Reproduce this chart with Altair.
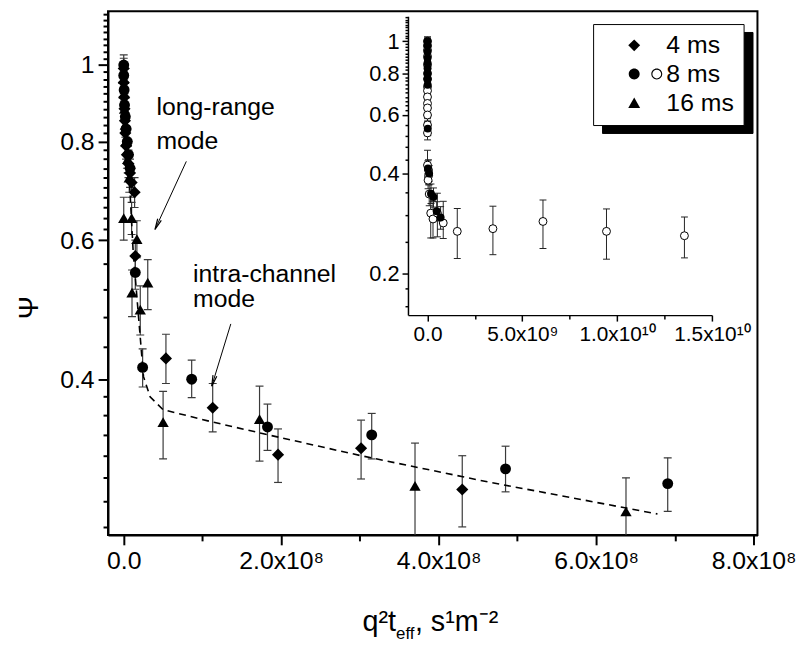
import altair as alt
import pandas as pd

# ---------------- main panel data (x in units of 1e8 s m^-2) ----------------
d4_x = [0.0, 0.0, 0.005, 0.01, 0.015, 0.02, 0.03, 0.04, 0.06, 0.08, 0.10, 0.138, 0.147, 0.536, 1.13, 1.96, 3.015, 4.30]
d4_y = [0.99, 0.95, 0.91, 0.88, 0.85, 0.82, 0.79, 0.77, 0.75, 0.73, 0.71, 0.69, 0.573, 0.425, 0.368, 0.321, 0.327, 0.290]
d4_lo = [0.96, 0.92, 0.88, 0.85, 0.82, 0.79, 0.76, 0.74, 0.72, 0.70, 0.68, 0.66, 0.55, 0.395, 0.343, 0.296, 0.299, 0.260]
d4_hi = [1.02, 0.98, 0.94, 0.91, 0.88, 0.85, 0.82, 0.80, 0.78, 0.76, 0.74, 0.72, 0.60, 0.456, 0.395, 0.346, 0.355, 0.320]

d8_x = [0.0, 0.0, 0.005, 0.01, 0.02, 0.03, 0.045, 0.06, 0.08, 0.147, 0.24, 0.863, 1.826, 3.15, 4.85, 6.91]
d8_y = [1.0, 0.97, 0.93, 0.89, 0.86, 0.83, 0.80, 0.77, 0.74, 0.546, 0.414, 0.400, 0.348, 0.340, 0.308, 0.295]
d8_lo = [0.97, 0.94, 0.90, 0.86, 0.83, 0.80, 0.77, 0.74, 0.71, 0.52, 0.391, 0.379, 0.325, 0.317, 0.288, 0.272]
d8_hi = [1.03, 1.00, 0.96, 0.92, 0.89, 0.86, 0.83, 0.80, 0.77, 0.575, 0.437, 0.423, 0.372, 0.362, 0.329, 0.318]

d16_x = [0.0, 0.005, 0.01, 0.02, 0.03, 0.05, 0.07, 0.0, 0.10, 0.167, 0.105, 0.21, 0.305, 0.50, 1.725, 3.70, 6.38]
d16_y = [0.96, 0.92, 0.88, 0.84, 0.80, 0.76, 0.72, 0.64, 0.64, 0.602, 0.515, 0.49, 0.53, 0.353, 0.356, 0.293, 0.272]
d16_lo = [0.93, 0.89, 0.85, 0.81, 0.77, 0.73, 0.69, 0.60, 0.61, 0.57, 0.48, 0.455, 0.49, 0.317, 0.315, 0.24, 0.248]
d16_hi = [0.99, 0.95, 0.91, 0.87, 0.83, 0.79, 0.75, 0.68, 0.67, 0.635, 0.55, 0.525, 0.567, 0.386, 0.392, 0.332, 0.300]

# dashed fit curve
fit_x = [0.0, 0.03, 0.07, 0.12, 0.185, 0.251, 0.335, 0.5, 1.13, 1.84, 3.015, 4.585, 6.78]
fit_y = [1.0, 0.86, 0.72, 0.58, 0.484, 0.403, 0.380, 0.366, 0.353, 0.340, 0.320, 0.297, 0.270]

# annotations
ann_text = ["long-range", "mode", "intra-channel", "mode"]
ann_x = [0.415, 0.415, 0.88, 0.88]
ann_y = [0.885, 0.80, 0.544, 0.505]
arr_x0 = [0.795, 1.36]
arr_y0 = [0.755, 0.470]
arr_x1 = [0.397, 1.118]
arr_y1 = [0.619, 0.392]

# ---------------- inset data (x in units of 1e9 s m^-2) ----------------
in_x = [0.0] * 15 + [0.0, 0.05, 0.06, 0.03, 0.09, 0.17, 0.29, 0.52, 0.83, 1.57, 3.45, 6.09, 9.44, 13.55]
in_y = [1.0, 0.97, 0.94, 0.90, 0.85, 0.80, 0.77, 0.73, 0.71, 0.68, 0.65, 0.63, 0.60, 0.56, 0.53,
        0.424, 0.41, 0.395, 0.382, 0.347, 0.304, 0.292, 0.304, 0.284, 0.268, 0.273, 0.287, 0.268, 0.260]
in_lo = [0.975, 0.945, 0.915, 0.875, 0.825, 0.775, 0.745, 0.705, 0.685, 0.655, 0.625, 0.605, 0.575, 0.535, 0.505,
         0.39, 0.38, 0.37, 0.36, 0.32, 0.256, 0.256, 0.258, 0.255, 0.222, 0.228, 0.238, 0.221, 0.223]
in_hi = [1.03, 0.995, 0.965, 0.925, 0.875, 0.825, 0.795, 0.755, 0.735, 0.705, 0.675, 0.655, 0.625, 0.585, 0.555,
         0.47, 0.44, 0.42, 0.40, 0.37, 0.345, 0.33, 0.349, 0.33, 0.314, 0.319, 0.333, 0.313, 0.296]

# axis ticks
x_ticks = [0, 1e8, 2e8, 3e8, 4e8, 5e8, 6e8, 7e8, 8e8]
y_ticks = [0.26, 0.28, 0.30, 0.32, 0.34, 0.36, 0.38, 0.4, 0.44, 0.48, 0.52, 0.56, 0.6,
           0.62, 0.64, 0.66, 0.68, 0.70, 0.72, 0.74, 0.76, 0.78, 0.8, 0.82, 0.84, 0.86, 0.88,
           0.90, 0.92, 0.94, 0.96, 0.98, 1, 1.02, 1.04, 1.06, 1.08, 1.10, 1.12, 1.14, 1.16]
xi_ticks = [0, 2.5e9, 5e9, 7.5e9, 1e10, 1.25e10, 1.5e10]
yi_ticks = [0.16, 0.18, 0.2, 0.25, 0.3, 0.35, 0.4, 0.44, 0.48, 0.52, 0.56, 0.6,
            0.62, 0.64, 0.66, 0.68, 0.70, 0.72, 0.74, 0.76, 0.78, 0.8, 0.82, 0.84, 0.86, 0.88,
            0.90, 0.92, 0.94, 0.96, 0.98, 1, 1.02, 1.04, 1.06, 1.08, 1.10, 1.12, 1.14, 1.16, 1.18]

legend_labels = ["4 ms", "8 ms", "16 ms"]

# ---------------- tables ----------------
rows = []
for s, xs, ys, los, his in [("4", d4_x, d4_y, d4_lo, d4_hi),
                            ("8", d8_x, d8_y, d8_lo, d8_hi),
                            ("16", d16_x, d16_y, d16_lo, d16_hi)]:
    for x, y, lo, hi in zip(xs, ys, los, his):
        rows.append({"s": s, "x": x * 1e8, "y": y, "lo": lo, "hi": hi})
main_df = pd.DataFrame(rows)
fit_df = pd.DataFrame({"x": [v * 1e8 for v in fit_x], "y": fit_y})
ann_df = pd.DataFrame({"x": [v * 1e8 for v in ann_x], "y": ann_y, "t": ann_text})
arr_df = pd.DataFrame({"x0": [v * 1e8 for v in arr_x0], "y0": arr_y0,
                       "x1": [v * 1e8 for v in arr_x1], "y1": arr_y1})
in_df = pd.DataFrame({"x": [v * 1e9 for v in in_x], "y": in_y, "lo": in_lo, "hi": in_hi})
in_filled = main_df[main_df.s == "8"][["x", "y", "lo", "hi"]]
leg_df = pd.DataFrame({"k": legend_labels, "k2": ["A", "B", "C"],
                       "x": [None, None, None], "y": [None, None, None]})

FONT = "Liberation Sans"

# ---------------- main scales / axes ----------------
XS = alt.Scale(domain=[-0.2e8, 8.05e8], nice=False, zero=False)
YS = alt.Scale(type="log", domain=[0.254, 1.17], nice=False)
x_ax = alt.Axis(orient="bottom", values=x_ticks, title=None, grid=False,
                labelExpr="datum.value == 0 ? '0.0' : (datum.value % 2e8 == 0 ? format(datum.value / 1e8, '.1f') + 'x10⁸' : '')",
                tickSize={"condition": {"test": "datum.value % 2e8 == 0", "value": 10}, "value": 6},
                tickWidth=2, domainWidth=2, labelFontSize=25, labelPadding=4,
                labelFlush=False, labelOverlap=False)
y_ax = alt.Axis(orient="left", values=y_ticks, grid=False,
                labelExpr="datum.value == 1 ? '1' : (indexof([0.4, 0.6, 0.8], datum.value) >= 0 ? format(datum.value, '.1f') : '')",
                tickSize={"condition": {"test": "indexof([0.4, 0.6, 0.8, 1], datum.value) >= 0", "value": 10}, "value": 5},
                tickWidth=2, domainWidth=2, labelFontSize=25, labelPadding=4,
                labelFlush=False, labelOverlap=False,
                title="Ψ", titleFontSize=28, titleFontWeight="normal",
                titleX=-79, titleY=299, titleAlign="center", titleBaseline="middle")


def MX(f="x"):
    return alt.X(f + ":Q", scale=XS, axis=x_ax)


def MY(f="y"):
    return alt.Y(f + ":Q", scale=YS, axis=y_ax)


err_col = "#3a3a3a"
m_rules = alt.Chart(main_df).mark_rule(color=err_col, strokeWidth=1.2, clip=True).encode(
    MX(), MY("lo"), alt.Y2("hi:Q"))
m_cap_lo = alt.Chart(main_df).mark_tick(orient="horizontal", size=8, thickness=1.2,
                                        color=err_col, clip=True, opacity=1).encode(MX(), MY("lo"))
m_cap_hi = alt.Chart(main_df).mark_tick(orient="horizontal", size=8, thickness=1.2,
                                        color=err_col, clip=True, opacity=1).encode(MX(), MY("hi"))
m_fit = alt.Chart(fit_df).mark_line(color="black", strokeDash=[7, 5], strokeWidth=1.6).encode(MX(), MY())
m_d4 = alt.Chart(main_df).transform_filter(alt.datum.s == "4").mark_point(
    shape="diamond", filled=True, color="black", size=150, opacity=1).encode(MX(), MY())
m_d8 = alt.Chart(main_df).transform_filter(alt.datum.s == "8").mark_point(
    shape="circle", filled=True, color="black", size=121, opacity=1).encode(MX(), MY())
m_d16 = alt.Chart(main_df).transform_filter(alt.datum.s == "16").mark_point(
    shape="triangle-up", filled=True, color="black", size=130, opacity=1).encode(MX(), MY())

m_ann = alt.Chart(ann_df).mark_text(align="left", baseline="middle", fontSize=25,
                                    font=FONT, color="black").encode(MX(), MY(), text="t:N")
m_arr = alt.Chart(arr_df).mark_rule(color="black", strokeWidth=1).encode(
    MX("x0"), MY("y0"), alt.X2("x1:Q"), alt.Y2("y1:Q"))
V_PATH = "M -0.4,2.2 L 0,0 L 0.4,2.2"
m_head1 = alt.Chart(arr_df.iloc[[0]]).mark_point(shape=V_PATH, angle=204.5, size=100, filled=False,
                                                  strokeWidth=1.2, color="black", opacity=1).encode(MX("x1"), MY("y1"))
m_head2 = alt.Chart(arr_df.iloc[[1]]).mark_point(shape=V_PATH, angle=196.8, size=100, filled=False,
                                                  strokeWidth=1.2, color="black", opacity=1).encode(MX("x1"), MY("y1"))

# x-axis title pieces
t_a = alt.Chart(pd.DataFrame({"t": ["q²t"]})).mark_text(
    align="left", baseline="alphabetic", fontSize=29, font=FONT, color="black").encode(
    x=alt.value(257), y=alt.value(626), text="t:N")
t_b = alt.Chart(pd.DataFrame({"t": ["eff"]})).mark_text(
    align="left", baseline="alphabetic", fontSize=17, font=FONT, color="black").encode(
    x=alt.value(291), y=alt.value(634), text="t:N")
t_c = alt.Chart(pd.DataFrame({"t": [", s¹m⁻²"]})).mark_text(
    align="left", baseline="alphabetic", fontSize=29, font=FONT, color="black").encode(
    x=alt.value(310), y=alt.value(626), text="t:N")

# legend (shadow + box)
EIGHT = ("M -0.92,0 A 0.92,0.92 0 1,1 0.92,0 A 0.92,0.92 0 1,1 -0.92,0 Z "
         "M 2.88,0 A 0.92,0.92 0 1,1 4.72,0 A 0.92,0.92 0 1,1 2.88,0 Z "
         "M 3.06,0 A 0.74,0.74 0 1,0 4.54,0 A 0.74,0.74 0 1,0 3.06,0 Z")
NB = "\u00a0"
common = dict(orient="none", padding=9, symbolSize=144, symbolOffset=20, labelOffset=20,
              labelFontSize=25, labelFont=FONT, rowPadding=3, title=None)
shadow_leg = alt.Chart(leg_df).mark_point(filled=True, opacity=1).encode(
    MX(), MY(),
    color=alt.Color("k2:N", scale=alt.Scale(domain=["A", "B", "C"], range=["black", "black", "black"]),
                    legend=alt.Legend(legendX=499, legendY=21, fillColor="black", strokeColor="black",
                                      labelColor="black", zindex=1,
                                      labelExpr="(datum.label == 'C' ? '16 ms' : '8 ms') + '" + NB * 2 + "'",
                                      **common)))
main_leg = alt.Chart(leg_df).mark_point(filled=True, color="black", opacity=1).encode(
    MX(), MY(),
    shape=alt.Shape("k:N", scale=alt.Scale(domain=legend_labels, range=["diamond", EIGHT, "triangle-up"]),
                    legend=alt.Legend(legendX=490, legendY=13, fillColor="white", strokeColor="black",
                                      labelColor="black", symbolFillColor="black", symbolStrokeWidth=0,
                                      zindex=2, labelExpr="datum.label + '" + NB * 2 + "'", **common)))

main = alt.layer(m_rules, m_cap_lo, m_cap_hi, m_fit, m_d4, m_d8, m_d16,
                 m_ann, m_arr, m_head1, m_head2, t_a, t_b, t_c, shadow_leg, main_leg)

# ---------------- inset ----------------
XI = alt.Scale(domain=[-1.03e9, 1.5e10], range=[303, 610], nice=False, zero=False)
YI = alt.Scale(type="log", domain=[0.15, 1.19], range=[307, 5], nice=False)
xi_ax = alt.Axis(orient="bottom", offset=-222, values=xi_ticks, title=None, grid=False,
                 labelExpr="datum.value == 0 ? '0.0' : (datum.value % 5e9 != 0 ? '' : (datum.value < 1e10 ? format(datum.value / 1e9, '.1f') + 'x10⁹' : format(datum.value / 1e10, '.1f') + 'x10¹⁰'))",
                 tickSize={"condition": {"test": "datum.value % 5e9 == 0", "value": 6}, "value": 4},
                 tickWidth=1.5, domainWidth=1.5, labelFontSize=21, labelPadding=3,
                 labelFlush=False, labelOverlap=False)
yi_ax = alt.Axis(orient="left", offset=-303, values=yi_ticks, title=None, grid=False,
                 labelExpr="datum.value == 1 ? '1' : (indexof([0.2, 0.4, 0.6, 0.8], datum.value) >= 0 ? format(datum.value, '.1f') : '')",
                 tickSize={"condition": {"test": "indexof([0.2, 0.4, 0.6, 0.8, 1], datum.value) >= 0", "value": 6}, "value": 3},
                 tickWidth=1.5, domainWidth=1.5, labelFontSize=22, labelPadding=3,
                 labelFlush=False, labelOverlap=False)


def IX(f="x"):
    return alt.X(f + ":Q", scale=XI, axis=xi_ax)


def IY(f="y"):
    return alt.Y(f + ":Q", scale=YI, axis=yi_ax)


in_all = pd.concat([in_df, in_filled], ignore_index=True)
i_rules = alt.Chart(in_all).mark_rule(color="#222222", strokeWidth=1).encode(IX(), IY("lo"), alt.Y2("hi:Q"))
i_cap_lo = alt.Chart(in_all).mark_tick(orient="horizontal", size=7, thickness=1, color="#222222",
                                       opacity=1).encode(IX(), IY("lo"))
i_cap_hi = alt.Chart(in_all).mark_tick(orient="horizontal", size=7, thickness=1, color="#222222",
                                       opacity=1).encode(IX(), IY("hi"))
i_open = alt.Chart(in_df).mark_point(shape="circle", filled=False, fill="white", stroke="black",
                                     strokeWidth=1, size=64, opacity=1).encode(IX(), IY())
i_fill = alt.Chart(in_filled).mark_point(shape="circle", filled=True, color="black",
                                         size=64, opacity=1).encode(IX(), IY())
inset = alt.layer(i_rules, i_cap_lo, i_cap_hi, i_open, i_fill)

chart = alt.layer(main, inset).resolve_scale(x="independent", y="independent").properties(
    width=656, height=529,
    autosize=alt.AutoSizeParams(type="none"),
    padding={"left": 101, "top": 0, "right": 46, "bottom": 111},
).configure(font=FONT).configure_view(stroke="black", strokeWidth=2).configure_axis(
    domainColor="black", tickColor="black", labelColor="black", titleColor="black",
    labelFont=FONT, titleFont=FONT, grid=False)

chart.save("out.html", embed_options={"renderer": "svg", "actions": False})
